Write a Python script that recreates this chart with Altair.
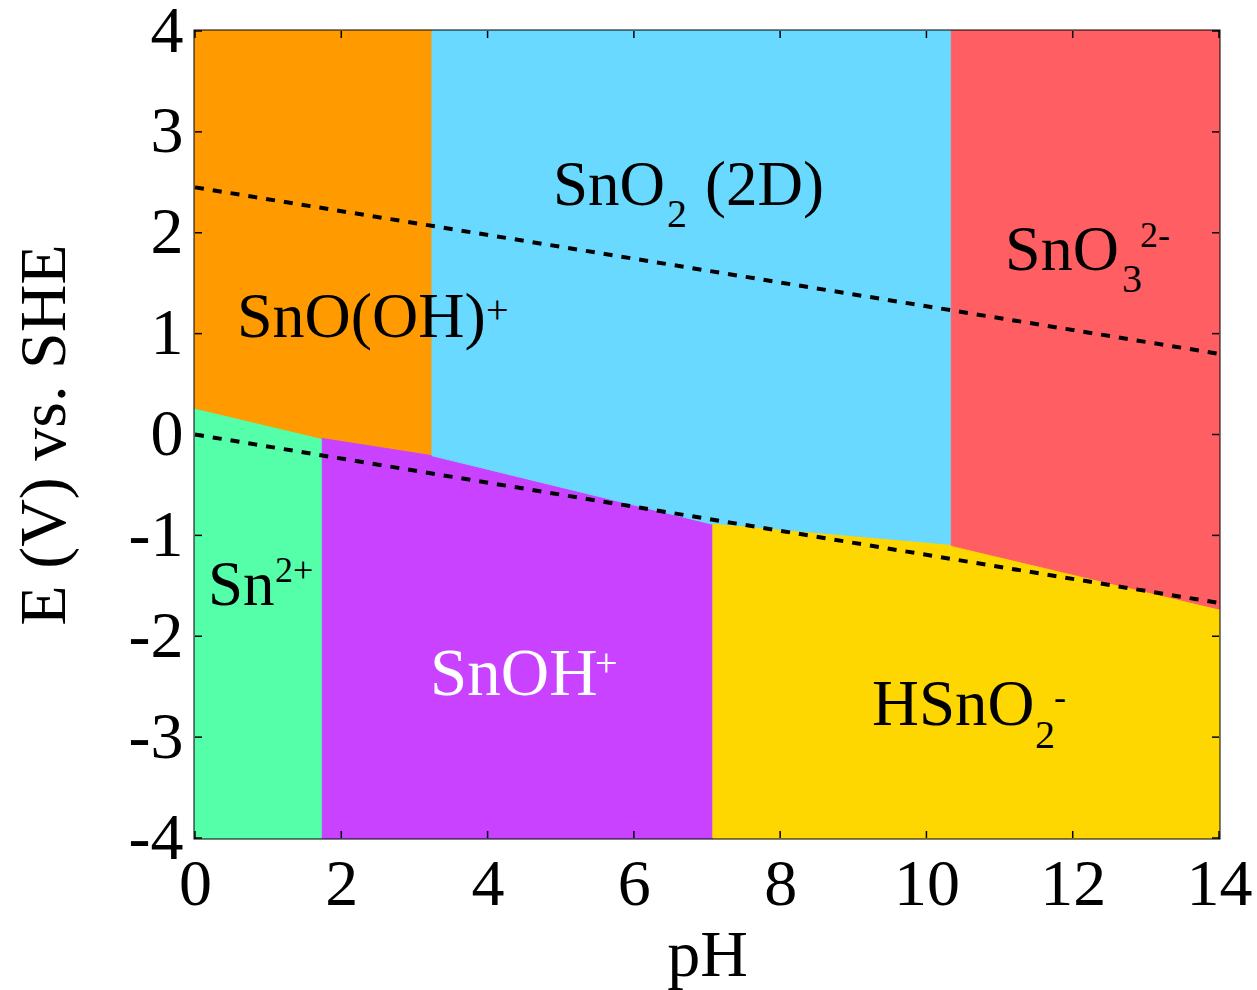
import altair as alt
import pandas as pd

# Pourbaix diagram of tin: stability regions in the pH / potential plane
region_names = ["Sn2+", "SnO(OH)+", "SnOH+", "SnO2 (2D)", "HSnO2-", "SnO3 2-"]
region_colors = ["#55FFAA", "#FF9A00", "#C842FF", "#69D9FF", "#FFD700", "#FF5F63"]

# Polyline separating the lower (reduced) species from the upper (oxidised) ones
boundary_ph = [0.0, 1.74, 3.24, 7.08, 10.34, 14.0]
boundary_e = [0.26, -0.04, -0.21, -0.89, -1.10, -1.73]

# Each region: (name, first boundary vertex, last boundary vertex, side of the polyline)
region_spans = [
    ("Sn2+", 0, 1, "below"),
    ("SnO(OH)+", 0, 2, "above"),
    ("SnOH+", 1, 3, "below"),
    ("SnO2 (2D)", 2, 4, "above"),
    ("HSnO2-", 3, 5, "below"),
    ("SnO3 2-", 4, 5, "above"),
]

# Water stability lines (dashed)
water_ph = [0.0, 14.0]
water_upper = [2.45, 0.80]
water_lower = [0.0, -1.67]

E_MIN, E_MAX = -4.0, 4.0
x_ticks = [0, 2, 4, 6, 8, 10, 12, 14]
y_ticks = [-4, -3, -2, -1, 0, 1, 2, 3, 4]

# Species labels drawn as pieces (main text, sub- and superscripts)
label_text = ["SnO(OH)", "+", "SnO", "2", "(2D)", "SnO", "3", "2-",
              "Sn", "2+", "SnOH", "+", "HSnO", "2", "-"]
label_ph = [0.574, 3.98, 4.895, 6.453, 6.973, 11.075, 12.674, 12.92,
            0.178, 1.094, 3.213, 5.47, 9.256, 11.485, 11.745]
label_e = [0.966, 1.11, 2.274, 2.056, 2.274, 1.630, 1.412, 1.858,
           -1.690, -1.462, -2.582, -2.393, -2.879, -3.107, -2.72]
label_size = [64, 40, 63, 40, 63, 64, 40, 36,
              63, 36, 67, 40, 65, 40, 36]
label_color = ["black", "black", "black", "black", "black", "black", "black", "black",
               "black", "black", "white", "white", "black", "black", "black"]

rows = []
for name, i0, i1, side in region_spans:
    for k in range(i0, i1 + 1):
        if side == "below":
            lo, hi = E_MIN, boundary_e[k]
        else:
            lo, hi = boundary_e[k], E_MAX
        rows.append({"region": name, "ph": boundary_ph[k], "lo": lo, "hi": hi})
regions = pd.DataFrame(rows)

water = pd.DataFrame(
    [{"line": "upper", "ph": p, "e": e} for p, e in zip(water_ph, water_upper)]
    + [{"line": "lower", "ph": p, "e": e} for p, e in zip(water_ph, water_lower)]
)

labels = pd.DataFrame({"text": label_text, "ph": label_ph, "e": label_e,
                       "size": label_size, "color": label_color})

FONT = "Liberation Serif"
W, H = 1024, 807
TICK = 7

x_scale = alt.Scale(domain=[0, 14], nice=False, zero=False)
y_scale = alt.Scale(domain=[E_MIN, E_MAX], nice=False, zero=False)
color_scale = alt.Scale(domain=region_names, range=region_colors)

x_axis = alt.Axis(values=x_ticks, ticks=False, domain=False, grid=False,
                  labelFont=FONT, labelFontSize=66, labelColor="black",
                  labelPadding=14, labelExpr="'' + datum.value",
                  labelFlush=False, labelOverlap=False,
                  titleFont=FONT, titleFontSize=66, titleFontWeight="normal",
                  titleColor="black", titlePadding=6)
y_axis = alt.Axis(values=y_ticks, ticks=False, domain=False, grid=False,
                  labelFont=FONT, labelFontSize=66, labelColor="black",
                  labelPadding=12, labelExpr="'' + datum.value",
                  labelFlush=False, labelOverlap=False,
                  titleFont=FONT, titleFontSize=66, titleFontWeight="normal",
                  titleColor="black", titlePadding=50)

areas = alt.Chart(regions).mark_area(orient="vertical", strokeWidth=1).encode(
    x=alt.X("ph:Q", scale=x_scale, axis=x_axis, title="pH"),
    y=alt.Y("lo:Q", scale=y_scale, axis=y_axis, title="E (V) vs. SHE"),
    y2="hi:Q",
    color=alt.Color("region:N", scale=color_scale, legend=None),
    stroke=alt.Stroke("region:N", scale=color_scale, legend=None),
    detail="region:N",
)

lines = alt.Chart(water).mark_line(
    color="black", strokeWidth=4, strokeDash=[9, 9], strokeCap="butt"
).encode(
    x=alt.X("ph:Q", scale=x_scale),
    y=alt.Y("e:Q", scale=y_scale),
    detail="line:N",
)

text = alt.Chart(labels).mark_text(
    font=FONT, align="left", baseline="alphabetic"
).encode(
    x=alt.X("ph:Q", scale=x_scale),
    y=alt.Y("e:Q", scale=y_scale),
    text="text:N",
    size=alt.Size("size:Q", scale=None, legend=None),
    color=alt.Color("color:N", scale=None, legend=None),
)

ytick_df = pd.DataFrame({"e": y_ticks})
xtick_df = pd.DataFrame({"ph": x_ticks})

ytick_left = alt.Chart(ytick_df).mark_rule(color="black", strokeWidth=1.5).encode(
    y=alt.Y("e:Q", scale=y_scale), x=alt.value(0), x2=alt.value(TICK))
ytick_right = alt.Chart(ytick_df).mark_rule(color="black", strokeWidth=1.5).encode(
    y=alt.Y("e:Q", scale=y_scale), x=alt.value(W - TICK), x2=alt.value(W))
xtick_bottom = alt.Chart(xtick_df).mark_rule(color="black", strokeWidth=1.5).encode(
    x=alt.X("ph:Q", scale=x_scale), y=alt.value(H - TICK), y2=alt.value(H))
xtick_top = alt.Chart(xtick_df).mark_rule(color="black", strokeWidth=1.5).encode(
    x=alt.X("ph:Q", scale=x_scale), y=alt.value(0), y2=alt.value(TICK))

chart = alt.layer(
    areas, lines, text, ytick_left, ytick_right, xtick_bottom, xtick_top
).properties(
    width=W, height=H,
    autosize=alt.AutoSizeParams(type="none"),
    padding={"left": 195, "top": 31, "right": 38, "bottom": 152},
    background="white",
).configure_view(
    stroke="black", strokeWidth=3
)

chart.save("out.html", embed_options={"renderer": "svg", "actions": False})
